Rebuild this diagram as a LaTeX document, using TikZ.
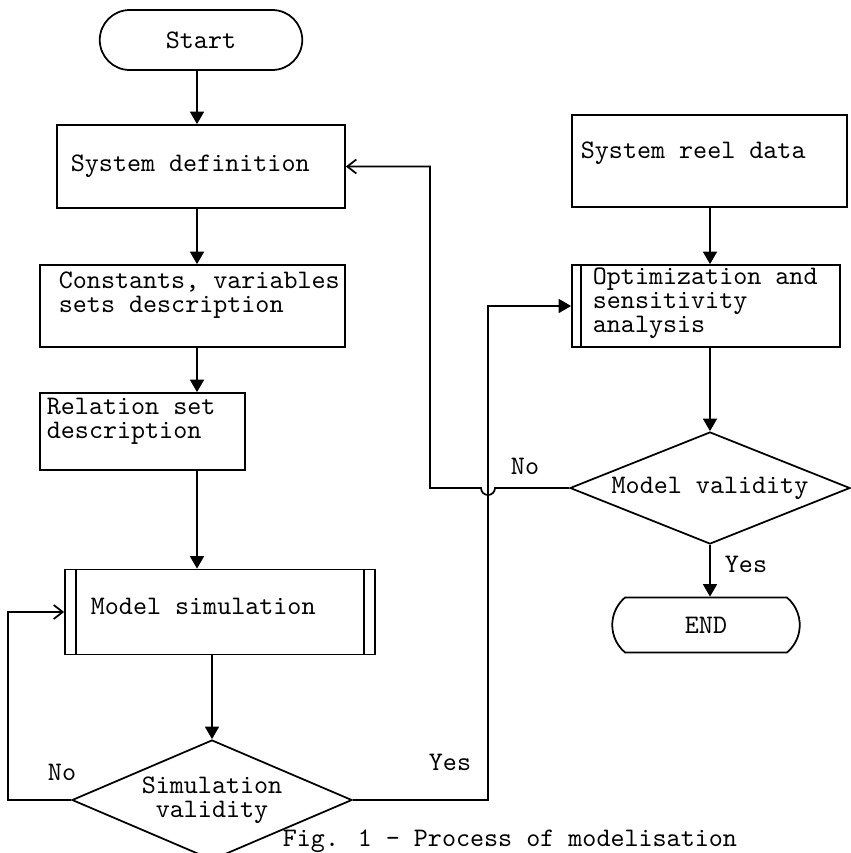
\documentclass[tikz,border=0pt]{standalone}
\usepackage{tikz}
\usetikzlibrary{arrows.meta,shapes.geometric,shapes.misc,positioning,calc}

\tikzset{every node/.style={font=\ttfamily\fontsize{10.7}{9.6}\selectfont}}

\begin{document}
\begin{tikzpicture}[
    x=0.4pt, y=-0.4pt, line width=0.7pt,
    box/.style={rectangle, draw, inner sep=0pt},
    term/.style={rounded rectangle, draw, inner sep=0pt},
    cond/.style={diamond, draw, inner sep=0pt, align=center},
    txt/.style={anchor=north west, align=left, inner sep=0pt},
    arrow/.style={-{Triangle[length=5pt,width=5.6pt]}},
    backarrow/.style={-{Straight Barb[length=3.6pt,width=5.6pt]}},
]
\useasboundingbox (0,0) rectangle (851,853);
\clip (0,0) rectangle (851,853);

% guide lines for the vertical runs
\coordinate (ax) at (197,0);
\coordinate (bx) at (710,0);
\coordinate (lx) at (8,0);
\coordinate (nx) at (430,0);
\coordinate (yx) at (488,0);

% left column
\node[term, minimum width=81pt, minimum height=24pt] (start) at (201,40) {Start};
\node[box, minimum width=115.2pt, minimum height=33.2pt] (sysdef) at (201,166.5) {};
\node[txt] (sysdef-t) at (70,154) {System definition};
\node[box, minimum width=122pt, minimum height=32.8pt] (const) at (192.5,306) {};
\node[txt] (const-t) at (58,271) {Constants, variables\\sets description};
\node[box, minimum width=82pt, minimum height=30.8pt] (rel) at (142.5,431.5) {};
\node[txt] (rel-t) at (46,397) {Relation set\\description};
\node[box, minimum width=124pt, minimum height=34pt] (msim) at (220,612) {};
\node[anchor=west, inner sep=0pt] (msim-t) at (90,606) {Model simulation};
\node[cond, aspect=2.33, minimum width=112pt, minimum height=48pt] (sval) at (212,800) {Simulation\\validity};

% right column
\node[box, minimum width=110pt, minimum height=36.8pt] (reel) at (709.5,161) {};
\node[anchor=west, inner sep=0pt] (reel-t) at (580,153) {System reel data};
\node[box, minimum width=107.2pt, minimum height=32.8pt] (optim) at (706,306) {};
\node[txt] (optim-t) at (592,267) {Optimization and\\sensitivity\\analysis};
\node[cond, aspect=2.5, minimum width=112pt, minimum height=44.8pt] (mval) at (710,488) {Model validity};
\node[term, rounded rectangle arc length=100, minimum width=75pt, minimum height=22pt] (end) at (706,625) {END};

% double side bars
\draw ([xshift=4.8pt]msim.north west) -- ([xshift=4.8pt]msim.south west);
\draw ([xshift=-4.8pt]msim.north east) -- ([xshift=-4.8pt]msim.south east);
\draw ([xshift=4pt]optim.north west) -- ([xshift=4pt]optim.south west);

% main flow
\draw[arrow] (start.south -| ax) -- (sysdef.north -| ax);
\draw[arrow] (sysdef.south -| ax) -- (const.north -| ax);
\draw[arrow] (const.south -| ax) -- (rel.north -| ax);
\draw[arrow] (rel.south -| ax) -- (msim.north -| ax);
\draw[arrow] (msim.south -| sval.north) -- (sval.north);
\draw[arrow] (reel.south -| bx) -- (optim.north -| bx);
\draw[arrow] (optim.south -| bx) -- (mval.north);
\draw[arrow] (mval.south) -- (end.north -| mval.south);

% loops back
\draw[backarrow] (sval.west) -- (sval.west -| lx) |- (msim.west);
\draw[arrow] (sval.east) -- (sval.east -| yx) |- (optim.west);
\draw[backarrow] (mval.west) -- ($(mval.west -| yx)+(7,0)$)
    arc[start angle=0, end angle=-180, radius=2.8pt]
    -- (mval.west -| nx) |- (sysdef.east);

% branch labels
\node (no-s) at (62,772) {No};
\node (yes-s) at (450,762) {Yes};
\node (no-m) at (525,466) {No};
\node (yes-m) at (746,564) {Yes};

\node[anchor=south west, inner sep=0pt] (cap) at (282,853) {Fig. 1 - Process of modelisation};
\end{tikzpicture}
\end{document}
